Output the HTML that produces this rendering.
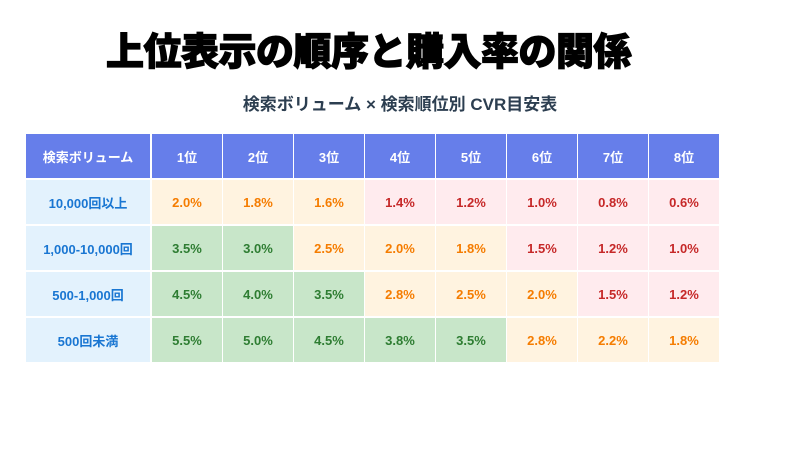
<!DOCTYPE html>
<html><head><meta charset="utf-8"><style>
body{margin:0;width:800px;height:450px;background:#fff;position:relative;overflow:hidden;font-family:"Liberation Sans","Noto Sans CJK JP",sans-serif}
.t{position:absolute;left:106px;top:21px;font-size:38px;font-weight:900;color:#000;letter-spacing:-0.5px;white-space:nowrap;-webkit-text-stroke:1.2px #000}
.s{position:absolute;left:0;width:800px;top:90px;text-align:center;font-size:17px;font-weight:bold;color:#2c3e50}
.c{position:absolute;display:flex;align-items:center;justify-content:center;font-size:13px;font-weight:bold}
.h{background:#667eea;color:#fff}
.f{background:#e3f2fd;color:#1976d2}
.o{background:#fff3e0;color:#f57c00}
.r{background:#ffebee;color:#c62828}
.g{background:#c8e6c9;color:#2e7d32}
</style></head><body>
<div class="t">上位表示の順序と購入率の関係</div>
<div class="s">検索ボリューム × 検索順位別 CVR目安表</div>
<div id="tb"></div>
<script>
var rows=[["h","検索ボリューム","1位","2位","3位","4位","5位","6位","7位","8位"],
["10,000回以上","o2.0%","o1.8%","o1.6%","r1.4%","r1.2%","r1.0%","r0.8%","r0.6%"],
["1,000-10,000回","g3.5%","g3.0%","o2.5%","o2.0%","o1.8%","r1.5%","r1.2%","r1.0%"],
["500-1,000回","g4.5%","g4.0%","g3.5%","o2.8%","o2.5%","o2.0%","r1.5%","r1.2%"],
["500回未満","g5.5%","g5.0%","g4.5%","g3.8%","g3.5%","o2.8%","o2.2%","o1.8%"]];
var h="";
for(var i=0;i<5;i++){var y=134+i*46;
for(var j=0;j<9;j++){var x=j==0?26:152+(j-1)*71,w=j==0?124:70,cls,txt;
if(i==0){cls="h";txt=rows[0][j+1];}else if(j==0){cls="f";txt=rows[i][0];}else{cls=rows[i][j][0];txt=rows[i][j].slice(1);}
h+='<div class="c '+cls+'" style="left:'+x+'px;top:'+y+'px;width:'+w+'px;height:44px">'+txt+'</div>';}}
document.getElementById("tb").innerHTML=h;
</script>
</body></html>
